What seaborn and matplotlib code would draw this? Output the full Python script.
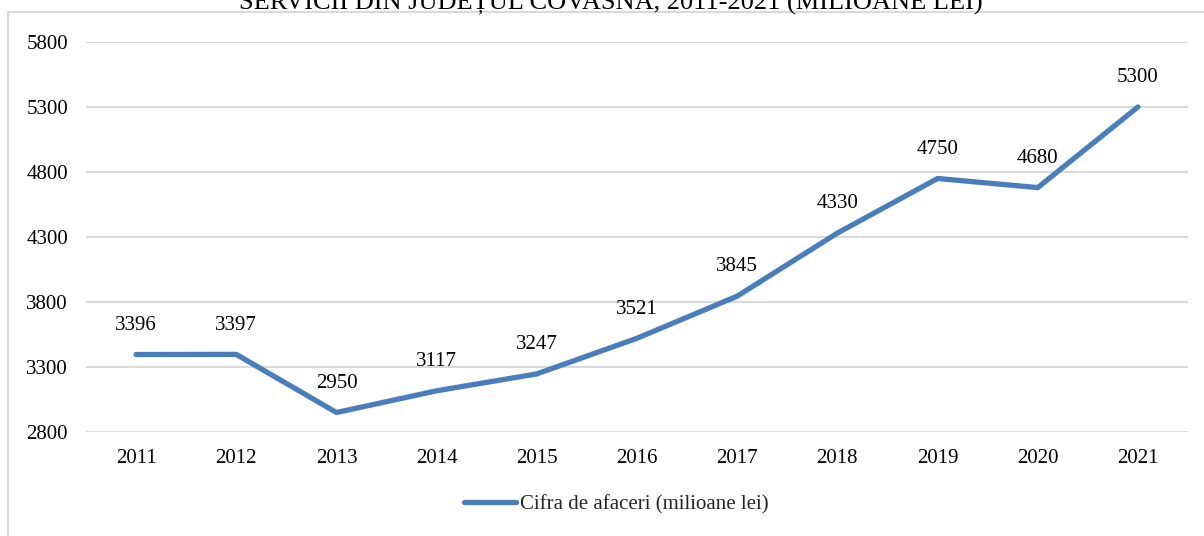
import matplotlib
matplotlib.use("Agg")
import matplotlib.pyplot as plt
import seaborn as sns
import pandas as pd
from matplotlib.patches import Rectangle
from matplotlib.lines import Line2D

years = ["2011", "2012", "2013", "2014", "2015", "2016", "2017", "2018", "2019", "2020", "2021"]
values = [3396, 3397, 2950, 3117, 3247, 3521, 3845, 4330, 4750, 4680, 5300]
y_ticks = [2800, 3300, 3800, 4300, 4800, 5300, 5800]
series_name = "Cifra de afaceri (milioane lei)"
title_text = "SERVICII DIN JUDEȚUL COVASNA, 2011-2021 (MILIOANE LEI)"

sns.set_style("white")
plt.rcParams["font.family"] = ["Liberation Serif", "DejaVu Serif"]

df = pd.DataFrame({"year": years, "value": values, "series": series_name})
df["pos"] = range(len(years))

W, H = 1204, 536
fig = plt.figure(figsize=(W / 100, H / 100), dpi=100)
ax = fig.add_axes([86 / W, 1 - 432 / H, (1188 - 86) / W, (432 - 42) / H])

color = "#4A7EBB"
sns.lineplot(data=df, x="pos", y="value", hue="series", palette=[color], ax=ax,
             linewidth=3.8, solid_capstyle="round", legend=False, sort=False)

ax.set_xlim(-0.5, len(years) - 0.5)
ax.set_ylim(y_ticks[0], y_ticks[-1])
ax.set_xticks(range(len(years)))
ax.set_xticklabels(years)
ax.set_yticks(y_ticks)
ax.set_yticklabels([str(t) for t in y_ticks])
ax.tick_params(axis="both", length=0, labelsize=15, colors="black")
ax.tick_params(axis="y", pad=13)
ax.tick_params(axis="x", pad=12)
ax.set_xlabel("")
ax.set_ylabel("")
for s in ax.spines.values():
    s.set_visible(False)
ax.grid(axis="y", color="#D9D9D9", linewidth=1.5)
ax.set_axisbelow(True)

for i, v in enumerate(values):
    ax.annotate(str(v), (i, v), xytext=(0, 21), textcoords="offset points",
                ha="center", va="center", fontsize=15, color="black")

h = Line2D([0], [0], color=color, linewidth=3.8, solid_capstyle="round")
fig.legend([h], [series_name], loc="center", bbox_to_anchor=(616 / W, 1 - 505 / H),
           frameon=False, fontsize=15, handlelength=2.5, handletextpad=0.2)

fig.patches.append(Rectangle((8 / W, -0.1), 1.2, 1 - 12 / H + 0.1, transform=fig.transFigure,
                             fill=False, edgecolor="#D9D9D9", linewidth=1.5, zorder=0))

fig.text(611 / W, 1 - 9 / H, title_text, ha="center", va="baseline", fontsize=19, color="black")

fig.savefig("out.png", dpi=100)
